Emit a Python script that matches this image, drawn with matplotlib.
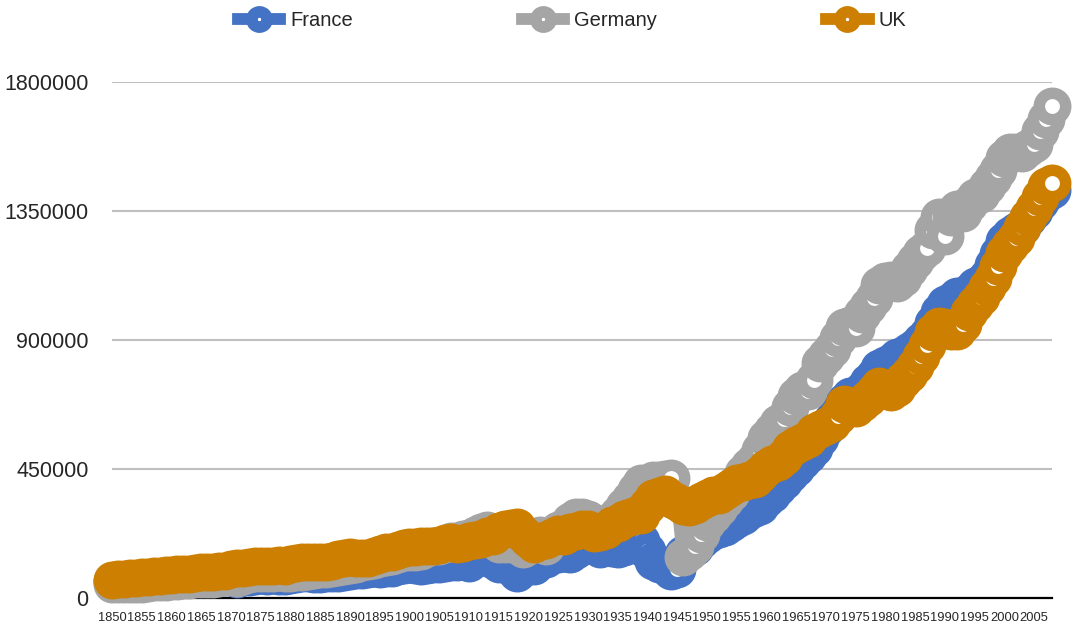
import numpy as np
import matplotlib.pyplot as plt

years = np.arange(1850, 2009)

# GDP values (thousands)
france_k = [
    58, 59, 62, 61, 62, 61, 64, 66, 67, 66,
    67, 64, 69, 71, 72, 71, 72, 69, 73, 75,
    72, 68, 74, 72, 77, 80, 77, 79, 78, 76,
    79, 82, 86, 86, 84, 84, 86, 87, 87, 91,
    95, 97, 98, 100, 105, 101, 106, 104, 111, 116,
    117, 114, 112, 116, 118, 120, 122, 127, 125, 130,
    122, 136, 145, 144, 131, 119, 124, 107, 88, 103,
    118, 112, 131, 137, 153, 154, 158, 155, 166, 194,
    188, 182, 171, 178, 176, 172, 178, 188, 186, 199,
    164, 130, 117, 110, 94, 101, 155, 166, 178, 203,
    220, 234, 240, 247, 260, 274, 287, 305, 313, 322,
    344, 363, 387, 407, 434, 455, 478, 500, 522, 559,
    592, 622, 650, 684, 704, 697, 727, 752, 776, 801,
    814, 822, 842, 848, 860, 875, 896, 918, 960, 999,
    1026, 1037, 1052, 1043, 1066, 1089, 1100, 1121, 1161, 1199,
    1245, 1268, 1281, 1294, 1326, 1350, 1380, 1410, 1425,
]
germany_k = [
    48, 48, 49, 49, 50, 50, 53, 56, 55, 56,
    60, 59, 62, 64, 68, 66, 67, 67, 71, 73,
    72, 71, 77, 82, 86, 87, 86, 87, 89, 88,
    87, 89, 90, 95, 97, 100, 101, 104, 108, 112,
    116, 120, 124, 130, 133, 138, 143, 147, 154, 159,
    162, 160, 164, 173, 180, 182, 190, 199, 200, 205,
    210, 219, 229, 237, 202, 187, 189, 190, 194, 170,
    181, 201, 219, 181, 211, 237, 244, 270, 283, 282,
    276, 254, 235, 250, 273, 294, 320, 344, 376, 400,
    398, 410, 412, 415, 418, 340, 143, 160, 181, 223,
    265, 289, 314, 341, 366, 406, 436, 461, 481, 517,
    558, 583, 610, 626, 667, 703, 724, 722, 762, 820,
    844, 870, 907, 945, 953, 942, 990, 1017, 1048, 1092,
    1105, 1110, 1100, 1118, 1148, 1175, 1202, 1222, 1285, 1330,
    1264, 1328, 1357, 1343, 1376, 1400, 1411, 1437, 1465, 1493,
    1536, 1555, 1555, 1551, 1570, 1582, 1630, 1670, 1716,
]
uk_k = [
    63, 65, 67, 69, 71, 72, 75, 76, 77, 80,
    81, 83, 83, 85, 88, 90, 92, 91, 93, 95,
    100, 105, 106, 108, 110, 111, 113, 113, 114, 113,
    118, 121, 124, 125, 125, 124, 126, 130, 135, 141,
    142, 141, 139, 140, 148, 153, 159, 162, 169, 175,
    177, 179, 183, 180, 182, 186, 192, 196, 190, 193,
    198, 203, 206, 216, 218, 235, 241, 244, 248, 222,
    205, 188, 198, 204, 213, 223, 215, 231, 234, 242,
    240, 228, 229, 236, 253, 262, 274, 284, 288, 291,
    320, 348, 355, 362, 346, 336, 321, 316, 326, 337,
    348, 358, 358, 372, 386, 400, 405, 413, 414, 431,
    453, 468, 474, 493, 521, 534, 544, 556, 580, 591,
    600, 612, 634, 676, 666, 662, 680, 696, 720, 740,
    728, 719, 733, 760, 780, 810, 844, 884, 929, 949,
    945, 932, 933, 955, 996, 1024, 1050, 1084, 1118, 1158,
    1202, 1231, 1257, 1293, 1330, 1362, 1400, 1438, 1447,
]

series_names = ["France", "Germany", "UK"]
series_colors = ["#4472C4", "#A5A5A5", "#CC7F00"]
y_ticks = [0, 450000, 900000, 1350000, 1800000]
x_ticks = list(range(1850, 2006, 5))

fig = plt.figure(figsize=(10.73, 6.29), dpi=100)
ax = fig.add_axes([112 / 1073, 31 / 629, 940 / 1073, 516 / 629])

for name, vals, col in zip(series_names, [france_k, germany_k, uk_k], series_colors):
    ax.plot(years, np.array(vals) * 1000, color=col, lw=9, marker="o", ms=19,
            mew=8.3, mfc="white", mec=col, clip_on=False, zorder=3, label=name)

ax.set_xlim(1850, 2008)
ax.set_ylim(0, 1800000)
ax.set_yticks(y_ticks)
ax.set_yticklabels([str(v) for v in y_ticks], family="Liberation Sans",
                   fontsize=15.5, color="#262626")
ax.set_xticks(x_ticks)
ax.set_xticklabels([str(v) for v in x_ticks], family="Liberation Sans",
                   fontsize=9.3, color="#262626")
ax.tick_params(axis="y", length=0, pad=17)
ax.tick_params(axis="x", length=0, pad=10)

ax.grid(axis="y", color="#BFBFBF", lw=1.5)
ax.set_axisbelow(True)
for s in ["top", "right", "left"]:
    ax.spines[s].set_visible(False)
ax.spines["bottom"].set_color("black")
ax.spines["bottom"].set_linewidth(1.6)
ax.spines["bottom"].set_zorder(2.5)

leg = fig.legend(loc="center", bbox_to_anchor=(572 / 1073, 1 - 21 / 629), ncol=3,
                 frameon=False, markerscale=0.58, handlelength=2.1,
                 handletextpad=0.5, columnspacing=8.4, borderpad=0,
                 prop={"family": "Liberation Sans", "size": 14.5})
for t in leg.get_texts():
    t.set_color("#262626")
for h in leg.legend_handles:
    h.set_linewidth(8.5)

fig.savefig("out.png", dpi=100)
